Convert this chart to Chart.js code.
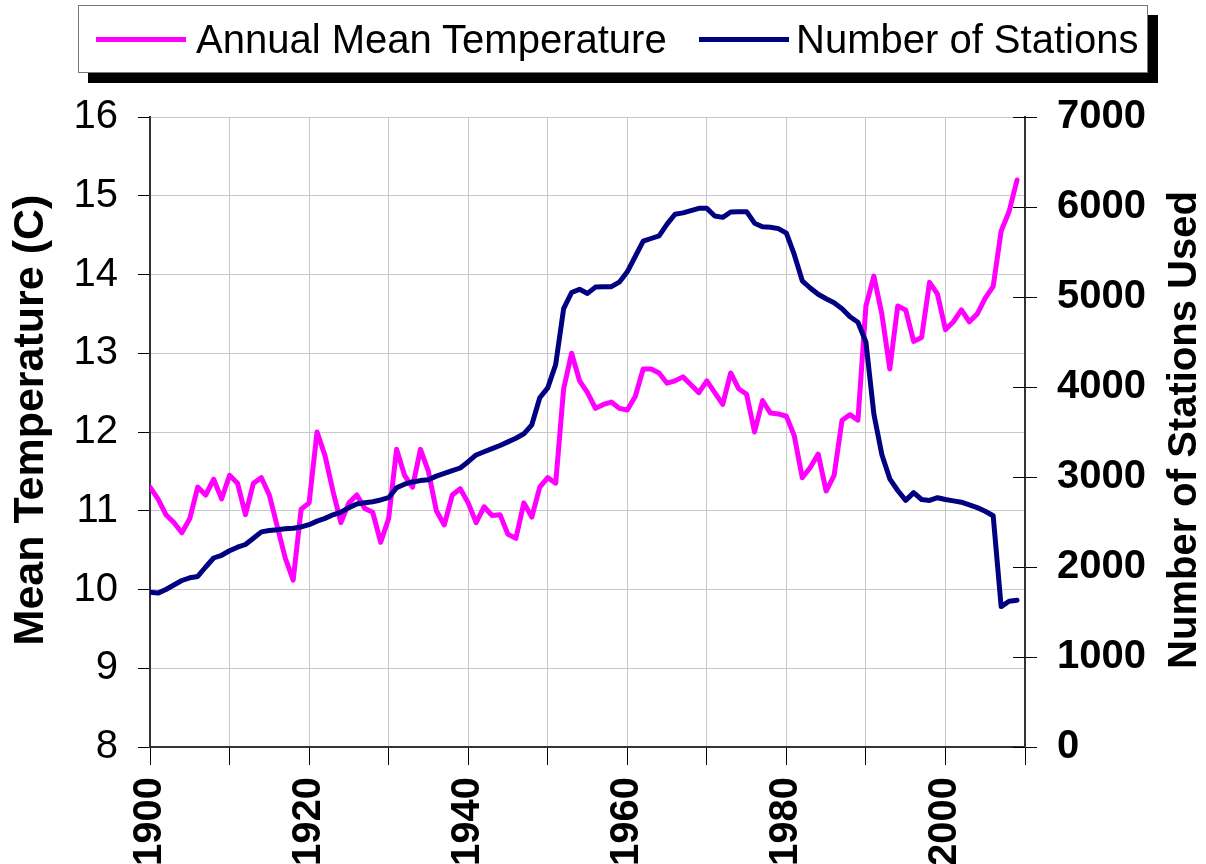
<!DOCTYPE html>
<html>
<head>
<meta charset="utf-8">
<title>Mean Temperature and Number of Stations</title>
<script src="https://cdn.jsdelivr.net/npm/chart.js@4.4.0/dist/chart.umd.min.js"></script>
<style>
    body { margin: 0; background: #fff; }
    #wrap { position: relative; width: 1206px; height: 864px; }
    #legend {
        position: absolute; left: 78px; top: 5px; width: 1068px; height: 66px;
        border: 1px solid #777; background: #fff; box-shadow: 10px 10px 0 #000;
        font-family: "Liberation Sans", Arial, sans-serif; font-size: 40px; color: #000;
    }
    .label { position: absolute; top: 0; height: 66px; line-height: 66px; white-space: nowrap; }
    .swatch { position: absolute; top: 31px; width: 90px; height: 5px; }
</style>
</head>
<body>
<div id="wrap">
    <canvas id="chart" width="1206" height="864"></canvas>
    <div id="legend">
        <div class="swatch" style="left:17px; background:#ff00ff;"></div>
        <div class="label" style="left:117px;">Annual Mean Temperature</div>
        <div class="swatch" style="left:620px; background:#000080;"></div>
        <div class="label" style="left:717px;">Number of Stations</div>
    </div>
</div>
<script>
// Data
const years = [
    1900, 1901, 1902, 1903, 1904, 1905, 1906, 1907, 1908, 1909,
    1910, 1911, 1912, 1913, 1914, 1915, 1916, 1917, 1918, 1919,
    1920, 1921, 1922, 1923, 1924, 1925, 1926, 1927, 1928, 1929,
    1930, 1931, 1932, 1933, 1934, 1935, 1936, 1937, 1938, 1939,
    1940, 1941, 1942, 1943, 1944, 1945, 1946, 1947, 1948, 1949,
    1950, 1951, 1952, 1953, 1954, 1955, 1956, 1957, 1958, 1959,
    1960, 1961, 1962, 1963, 1964, 1965, 1966, 1967, 1968, 1969,
    1970, 1971, 1972, 1973, 1974, 1975, 1976, 1977, 1978, 1979,
    1980, 1981, 1982, 1983, 1984, 1985, 1986, 1987, 1988, 1989,
    1990, 1991, 1992, 1993, 1994, 1995, 1996, 1997, 1998, 1999,
    2000, 2001, 2002, 2003, 2004, 2005, 2006, 2007, 2008, 2009
];

const meanTemp = [
    11.3, 11.15, 10.95, 10.85, 10.72, 10.9, 11.3, 11.2, 11.4, 11.15,
    11.45, 11.35, 10.95, 11.35, 11.42, 11.2, 10.8, 10.4, 10.12, 11.02,
    11.1, 12.0, 11.7, 11.25, 10.85, 11.1, 11.2, 11.03, 10.98, 10.6,
    10.9, 11.78, 11.45, 11.3, 11.78, 11.5, 11.0, 10.82, 11.2, 11.28,
    11.1, 10.85, 11.05, 10.94, 10.95, 10.7, 10.65, 11.1, 10.92, 11.3,
    11.42, 11.35, 12.55, 13.0, 12.65, 12.5, 12.3, 12.35, 12.38, 12.3,
    12.28, 12.45, 12.8, 12.8, 12.75, 12.62, 12.65, 12.7, 12.6, 12.5,
    12.65, 12.5, 12.35, 12.75, 12.55, 12.48, 12.0, 12.4, 12.24, 12.23,
    12.2, 11.95, 11.42, 11.55, 11.72, 11.25, 11.45, 12.15, 12.22, 12.15,
    13.6, 13.98, 13.5, 12.8, 13.6, 13.55, 13.15, 13.2, 13.9, 13.75,
    13.3, 13.4, 13.55, 13.4, 13.5, 13.7, 13.85, 14.55, 14.8, 15.2
];

const stations = [
    1720, 1710, 1750, 1800, 1850, 1880, 1895, 2000, 2100, 2130,
    2180, 2220, 2250, 2320, 2390, 2405, 2415, 2425, 2430, 2445,
    2470, 2510, 2540, 2580, 2610, 2660, 2700, 2715, 2725, 2745,
    2770, 2880, 2920, 2945, 2960, 2970, 3010, 3040, 3070, 3100,
    3170, 3245, 3280, 3315, 3350, 3390, 3430, 3480, 3580, 3880,
    3990, 4250, 4870, 5050, 5085, 5040, 5110, 5115, 5115, 5165,
    5280, 5450, 5620, 5650, 5680, 5810, 5920, 5935, 5960, 5985,
    5985, 5900, 5885, 5945, 5948, 5948, 5820, 5780, 5775, 5760,
    5710, 5470, 5180, 5100, 5030, 4980, 4935, 4870, 4780, 4720,
    4500, 3700, 3250, 2980, 2850, 2740, 2826, 2750, 2740, 2770,
    2750, 2735, 2720, 2690, 2660, 2620, 2570, 1560, 1620, 1630
];

const yearLabels = [1900, 1920, 1940, 1960, 1980, 2000];

const FONT = '"Liberation Sans", Arial, sans-serif';

// Axis titles (the right one reads bottom to top) and inner right ticks
const extras = {
    id: 'extras',
    afterDraw(chart) {
        const { ctx, chartArea, scales } = chart;
        const cy = (chartArea.top + chartArea.bottom) / 2;
        ctx.save();

        ctx.strokeStyle = '#000';
        ctx.lineWidth = 1;
        scales.y2.ticks.forEach(t => {
            const py = Math.round(scales.y2.getPixelForValue(t.value)) + 0.5;
            ctx.beginPath();
            ctx.moveTo(chartArea.right - 12, py);
            ctx.lineTo(chartArea.right, py);
            ctx.stroke();
        });

        ctx.fillStyle = '#000';
        ctx.textAlign = 'center';
        ctx.textBaseline = 'middle';

        ctx.save();
        ctx.font = `bold 43px ${FONT}`;
        ctx.translate(31, cy - 12);
        ctx.rotate(-Math.PI / 2);
        ctx.fillText('Mean Temperature (C)', 0, 0);
        ctx.restore();

        ctx.save();
        ctx.font = `bold 40px ${FONT}`;
        ctx.translate(1185, cy - 2);
        ctx.rotate(-Math.PI / 2);
        ctx.fillText('Number of Stations Used', 0, 0);
        ctx.restore();

        ctx.restore();
    }
};

const ctx = document.getElementById('chart').getContext('2d');
new Chart(ctx, {
    type: 'line',
    data: {
        datasets: [
            {
                label: 'Annual Mean Temperature',
                data: years.map((y, i) => ({ x: y, y: meanTemp[i] })),
                borderColor: '#ff00ff',
                borderWidth: 5,
                yAxisID: 'y',
                order: 2
            },
            {
                label: 'Number of Stations',
                data: years.map((y, i) => ({ x: y, y: stations[i] })),
                borderColor: '#000080',
                borderWidth: 5,
                yAxisID: 'y2',
                order: 1
            }
        ]
    },
    options: {
        responsive: false,
        animation: false,
        devicePixelRatio: 1,
        layout: { padding: { top: 117, left: 0, right: 0, bottom: 0 } },
        elements: {
            point: { radius: 0 },
            line: { tension: 0, borderJoinStyle: 'round', borderCapStyle: 'round' }
        },
        plugins: {
            legend: { display: false },
            tooltip: { enabled: false }
        },
        scales: {
            x: {
                type: 'linear',
                min: 1900,
                max: 2010,
                afterFit(scale) { scale.height = 117; },
                border: { color: '#333', width: 2 },
                grid: { color: '#c8c8c8', tickColor: '#000', tickLength: 18, lineWidth: 1 },
                ticks: {
                    stepSize: 10,
                    autoSkip: false,
                    minRotation: 90,
                    maxRotation: 90,
                    padding: 12,
                    color: '#000',
                    font: { family: FONT, size: 40, weight: 'bold' },
                    callback: v => yearLabels.includes(v) ? String(v) : ''
                }
            },
            y: {
                position: 'left',
                min: 8,
                max: 16,
                afterFit(scale) { scale.width = 150; },
                border: { color: '#333', width: 2 },
                grid: { color: '#c8c8c8', tickColor: '#000', tickLength: 12, lineWidth: 1 },
                ticks: {
                    stepSize: 1,
                    padding: 20,
                    color: '#000',
                    font: { family: FONT, size: 40 },
                    callback: v => String(v)
                }
            },
            y2: {
                position: 'right',
                min: 0,
                max: 7000,
                afterFit(scale) { scale.width = 181; },
                border: { color: '#333', width: 2 },
                grid: { drawOnChartArea: false, tickColor: '#000', tickLength: 12 },
                ticks: {
                    stepSize: 1000,
                    padding: 20,
                    color: '#000',
                    font: { family: FONT, size: 40, weight: 'bold' },
                    callback: v => String(v)
                }
            }
        }
    },
    plugins: [extras]
});
</script>
</body>
</html>
